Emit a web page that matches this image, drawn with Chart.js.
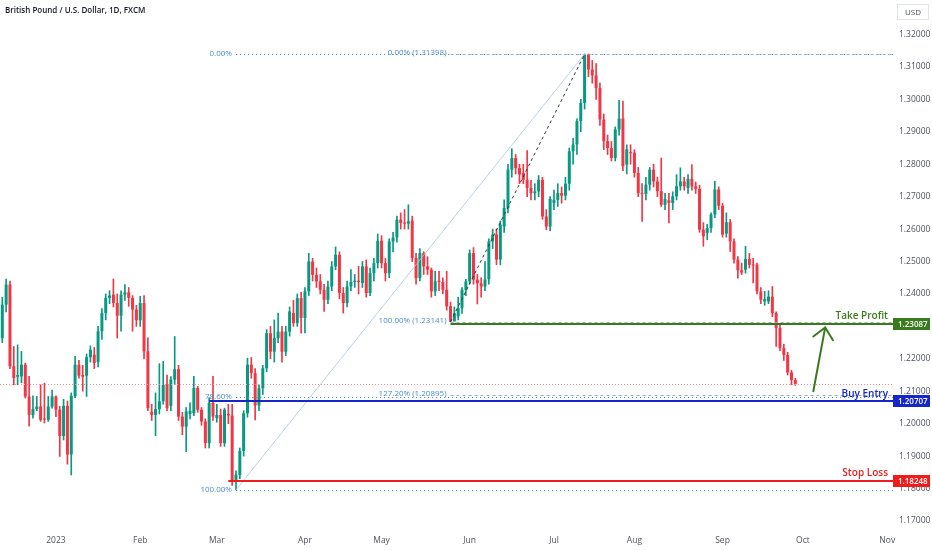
<!DOCTYPE html>
<html>
<head>
<meta charset="utf-8">
<script src="https://cdn.jsdelivr.net/npm/chart.js@4.4.1/dist/chart.umd.min.js"></script>
<style>
  html, body { margin: 0; padding: 0; background: #ffffff; }
  canvas { display: block; }
</style>
</head>
<body>
<canvas id="chart" width="932" height="550"></canvas>
<script>
// daily GBPUSD candles, index 0 = first session of 2023 (Jan 2)
const firstIndex = -14;

const opens = [
  1.2264, 1.2367, 1.2429, 1.2177, 1.2145, 1.2146, 1.2182, 1.2084, 1.2027, 1.2045,
  1.2053, 1.2016, 1.2012, 1.2053, 1.2084, 1.2043, 1.1962, 1.2055, 1.1905, 1.2084,
  1.2182, 1.2150, 1.2148, 1.2205, 1.2213, 1.2190, 1.2285, 1.2341, 1.2388, 1.2398,
  1.2372, 1.2333, 1.2398, 1.2405, 1.2388, 1.2352, 1.2319, 1.2372, 1.2223, 1.2037,
  1.2027, 1.2045, 1.2069, 1.2120, 1.2055, 1.2136, 1.2168, 1.2022, 1.1991, 1.2030,
  1.2033, 1.2110, 1.2043, 1.2007, 1.1940, 1.2064, 1.2017, 1.2027, 1.1940, 1.2030,
  1.2025, 1.1822, 1.1842, 1.1916, 1.2032, 1.2182, 1.2156, 1.2056, 1.2109, 1.2171,
  1.2279, 1.2222, 1.2264, 1.2284, 1.2222, 1.2284, 1.2341, 1.2310, 1.2387, 1.2326,
  1.2408, 1.2500, 1.2459, 1.2439, 1.2413, 1.2382, 1.2423, 1.2485, 1.2521, 1.2403,
  1.2372, 1.2423, 1.2437, 1.2441, 1.2434, 1.2485, 1.2403, 1.2464, 1.2495, 1.2564,
  1.2495, 1.2464, 1.2562, 1.2574, 1.2629, 1.2619, 1.2617, 1.2626, 1.2511, 1.2449,
  1.2526, 1.2485, 1.2475, 1.2408, 1.2441, 1.2437, 1.2413, 1.2362, 1.2315, 1.2331,
  1.2356, 1.2413, 1.2439, 1.2526, 1.2444, 1.2433, 1.2423, 1.2445, 1.2562, 1.2583,
  1.2506, 1.2608, 1.2665, 1.2783, 1.2819, 1.2788, 1.2773, 1.2752, 1.2727, 1.2711,
  1.2716, 1.2752, 1.2639, 1.2608, 1.2680, 1.2690, 1.2711, 1.2703, 1.2740, 1.2840,
  1.2861, 1.2933, 1.2989, 1.3138, 1.3092, 1.3074, 1.3035, 1.2938, 1.2871, 1.2850,
  1.2819, 1.2907, 1.2941, 1.2799, 1.2836, 1.2836, 1.2773, 1.2711, 1.2708, 1.2737,
  1.2783, 1.2747, 1.2717, 1.2675, 1.2689, 1.2681, 1.2701, 1.2732, 1.2747, 1.2727,
  1.2755, 1.2732, 1.2724, 1.2598, 1.2588, 1.2603, 1.2645, 1.2722, 1.2672, 1.2586,
  1.2621, 1.2562, 1.2506, 1.2473, 1.2475, 1.2508, 1.2490, 1.2490, 1.2408, 1.2377,
  1.2377, 1.2392, 1.2341, 1.2295, 1.2233, 1.2212, 1.2158, 1.2135
];

const highs = [
  1.2390, 1.2446, 1.2440, 1.2238, 1.2243, 1.2223, 1.2187, 1.2146, 1.2086, 1.2084,
  1.2120, 1.2125, 1.2084, 1.2104, 1.2086, 1.2053, 1.2075, 1.2070, 1.2095, 1.2208,
  1.2195, 1.2180, 1.2215, 1.2240, 1.2235, 1.2300, 1.2355, 1.2400, 1.2410, 1.2446,
  1.2400, 1.2410, 1.2429, 1.2420, 1.2395, 1.2365, 1.2393, 1.2395, 1.2265, 1.2060,
  1.2095, 1.2185, 1.2192, 1.2150, 1.2145, 1.2269, 1.2180, 1.2035, 1.2050, 1.2064,
  1.2146, 1.2115, 1.2050, 1.2015, 1.2080, 1.2146, 1.2060, 1.2045, 1.2048, 1.2060,
  1.2060, 1.1855, 1.1925, 1.2040, 1.2202, 1.2204, 1.2170, 1.2120, 1.2180, 1.2290,
  1.2300, 1.2320, 1.2341, 1.2300, 1.2300, 1.2360, 1.2380, 1.2400, 1.2405, 1.2420,
  1.2525, 1.2510, 1.2480, 1.2460, 1.2430, 1.2440, 1.2500, 1.2545, 1.2530, 1.2420,
  1.2440, 1.2475, 1.2460, 1.2485, 1.2500, 1.2505, 1.2480, 1.2510, 1.2585, 1.2580,
  1.2510, 1.2570, 1.2590, 1.2640, 1.2650, 1.2660, 1.2675, 1.2640, 1.2525, 1.2540,
  1.2530, 1.2515, 1.2480, 1.2470, 1.2470, 1.2450, 1.2470, 1.2375, 1.2360, 1.2390,
  1.2420, 1.2445, 1.2536, 1.2543, 1.2460, 1.2450, 1.2500, 1.2570, 1.2600, 1.2600,
  1.2625, 1.2690, 1.2800, 1.2848, 1.2830, 1.2800, 1.2800, 1.2842, 1.2750, 1.2740,
  1.2765, 1.2760, 1.2660, 1.2700, 1.2720, 1.2740, 1.2730, 1.2760, 1.2850, 1.2880,
  1.2940, 1.3000, 1.3140, 1.3140, 1.3120, 1.3110, 1.3050, 1.2955, 1.2890, 1.2870,
  1.2915, 1.2997, 1.2995, 1.2860, 1.2860, 1.2845, 1.2790, 1.2740, 1.2760, 1.2790,
  1.2800, 1.2760, 1.2819, 1.2710, 1.2710, 1.2715, 1.2768, 1.2789, 1.2760, 1.2768,
  1.2799, 1.2745, 1.2735, 1.2620, 1.2615, 1.2650, 1.2747, 1.2730, 1.2680, 1.2650,
  1.2630, 1.2570, 1.2515, 1.2495, 1.2547, 1.2525, 1.2510, 1.2495, 1.2420, 1.2408,
  1.2410, 1.2423, 1.2345, 1.2305, 1.2245, 1.2220, 1.2165, 1.2140
];

const lows = [
  1.2250, 1.2345, 1.2170, 1.2120, 1.2120, 1.2126, 1.2079, 1.1992, 1.2017, 1.2040,
  1.2007, 1.2002, 1.2007, 1.2048, 1.2022, 1.1899, 1.1950, 1.1875, 1.1842, 1.2080,
  1.2140, 1.2100, 1.2084, 1.2190, 1.2170, 1.2175, 1.2260, 1.2320, 1.2370, 1.2360,
  1.2264, 1.2285, 1.2380, 1.2362, 1.2285, 1.2300, 1.2300, 1.2200, 1.2040, 1.2010,
  1.1963, 1.2030, 1.2060, 1.2040, 1.2040, 1.2120, 1.2010, 1.1966, 1.1914, 1.2015,
  1.2025, 1.2035, 1.1995, 1.1925, 1.1925, 1.2010, 1.2005, 1.1930, 1.1930, 1.2000,
  1.1810, 1.1796, 1.1830, 1.1900, 1.2020, 1.2140, 1.2012, 1.2040, 1.2090, 1.2160,
  1.2200, 1.2190, 1.2250, 1.2190, 1.2210, 1.2270, 1.2300, 1.2300, 1.2279, 1.2280,
  1.2395, 1.2440, 1.2420, 1.2400, 1.2346, 1.2370, 1.2410, 1.2475, 1.2385, 1.2341,
  1.2360, 1.2410, 1.2420, 1.2400, 1.2420, 1.2390, 1.2395, 1.2440, 1.2480, 1.2480,
  1.2440, 1.2450, 1.2530, 1.2560, 1.2600, 1.2600, 1.2600, 1.2500, 1.2430, 1.2440,
  1.2460, 1.2460, 1.2390, 1.2395, 1.2410, 1.2400, 1.2350, 1.2314, 1.2318, 1.2320,
  1.2340, 1.2395, 1.2430, 1.2430, 1.2369, 1.2390, 1.2410, 1.2430, 1.2540, 1.2490,
  1.2490, 1.2590, 1.2650, 1.2760, 1.2770, 1.2740, 1.2740, 1.2700, 1.2690, 1.2690,
  1.2700, 1.2630, 1.2598, 1.2595, 1.2660, 1.2670, 1.2680, 1.2690, 1.2720, 1.2800,
  1.2830, 1.2900, 1.2970, 1.3070, 1.3050, 1.3000, 1.2920, 1.2845, 1.2830, 1.2810,
  1.2810, 1.2890, 1.2780, 1.2770, 1.2800, 1.2760, 1.2700, 1.2624, 1.2690, 1.2720,
  1.2730, 1.2700, 1.2670, 1.2660, 1.2619, 1.2660, 1.2690, 1.2720, 1.2720, 1.2710,
  1.2720, 1.2710, 1.2590, 1.2547, 1.2567, 1.2590, 1.2635, 1.2660, 1.2575, 1.2575,
  1.2531, 1.2495, 1.2449, 1.2460, 1.2464, 1.2480, 1.2434, 1.2400, 1.2370, 1.2365,
  1.2370, 1.2330, 1.2238, 1.2225, 1.2195, 1.2150, 1.2120, 1.2118
];

const closes = [
  1.2367, 1.2429, 1.2177, 1.2141, 1.2150, 1.2182, 1.2084, 1.2027, 1.2045, 1.2053,
  1.2012, 1.2013, 1.2053, 1.2084, 1.2043, 1.1962, 1.2055, 1.1905, 1.2086, 1.2182,
  1.2148, 1.2145, 1.2205, 1.2228, 1.2187, 1.2285, 1.2341, 1.2388, 1.2395, 1.2372,
  1.2333, 1.2398, 1.2405, 1.2388, 1.2352, 1.2319, 1.2372, 1.2223, 1.2048, 1.2027,
  1.2045, 1.2069, 1.2120, 1.2048, 1.2136, 1.2168, 1.2022, 1.1991, 1.2038, 1.2040,
  1.2110, 1.2043, 1.2007, 1.1940, 1.2064, 1.2022, 1.2027, 1.1940, 1.2043, 1.2025,
  1.1822, 1.1843, 1.1916, 1.2032, 1.2182, 1.2156, 1.2056, 1.2109, 1.2171, 1.2279,
  1.2222, 1.2264, 1.2284, 1.2222, 1.2284, 1.2346, 1.2310, 1.2387, 1.2326, 1.2408,
  1.2500, 1.2459, 1.2439, 1.2413, 1.2382, 1.2423, 1.2485, 1.2521, 1.2403, 1.2372,
  1.2423, 1.2437, 1.2441, 1.2437, 1.2485, 1.2403, 1.2464, 1.2495, 1.2564, 1.2495,
  1.2464, 1.2562, 1.2574, 1.2629, 1.2619, 1.2617, 1.2624, 1.2511, 1.2449, 1.2526,
  1.2485, 1.2475, 1.2408, 1.2439, 1.2437, 1.2413, 1.2362, 1.2315, 1.2341, 1.2356,
  1.2413, 1.2439, 1.2526, 1.2444, 1.2433, 1.2423, 1.2445, 1.2562, 1.2583, 1.2506,
  1.2614, 1.2665, 1.2783, 1.2819, 1.2788, 1.2768, 1.2752, 1.2727, 1.2711, 1.2716,
  1.2752, 1.2639, 1.2608, 1.2693, 1.2690, 1.2711, 1.2703, 1.2740, 1.2840, 1.2861,
  1.2933, 1.2989, 1.3138, 1.3092, 1.3074, 1.3035, 1.2938, 1.2871, 1.2850, 1.2819,
  1.2907, 1.2941, 1.2794, 1.2846, 1.2834, 1.2773, 1.2711, 1.2708, 1.2737, 1.2783,
  1.2747, 1.2717, 1.2675, 1.2693, 1.2681, 1.2701, 1.2732, 1.2747, 1.2732, 1.2755,
  1.2732, 1.2724, 1.2598, 1.2578, 1.2603, 1.2645, 1.2722, 1.2672, 1.2583, 1.2621,
  1.2562, 1.2506, 1.2473, 1.2466, 1.2508, 1.2490, 1.2488, 1.2408, 1.2382, 1.2384,
  1.2392, 1.2341, 1.2295, 1.2233, 1.2212, 1.2158, 1.2135, 1.2123
];

// time axis: session index of each month start
const monthTicks = [0, 22, 42, 65, 85, 108, 130, 151, 174, 195, 217];
const monthLabels = ['2023', 'Feb', 'Mar', 'Apr', 'May', 'Jun', 'Jul', 'Aug', 'Sep', 'Oct', 'Nov'];
const priceTicks = [1.17, 1.18, 1.19, 1.20, 1.21, 1.22, 1.23, 1.24, 1.25, 1.26, 1.27, 1.28, 1.29, 1.30, 1.31, 1.32];

const lastPrice = 1.2123;

// fib retracement Mar low -> Jul high
const fibStartA = 47;
const fibLevelsA = [1.31398, 1.20836, 1.1796];
const fibLabelsA = ['0.00%', '78.60%', '100.00%'];
// fib extension May low -> Jul high
const fibStartB = 103;
const fibLevelsB = [1.31398, 1.23141, 1.20895];
const fibLabelsB = ['0.00% (1.31398)', '100.00% (1.23141)', '127.20% (1.20895)'];

// trade plan levels
const tradeNames = ['Take Profit', 'Buy Entry', 'Stop Loss'];
const tradePrices = [1.23087, 1.20707, 1.18248];
const tradeStarts = [103, 40, 45];
const tradeColors = ['#3a7a1e', '#1626c8', '#f01b1b'];

const upColor = '#089981';
const downColor = '#f23645';
const axisFont = { family: 'Open Sans', size: 8.5 };
const axisColor = '#50535e';

const candleIdx = closes.map((_, k) => firstIndex + k);
const candleColors = closes.map((c, k) => (c >= opens[k] ? upColor : downColor));

const drawings = {
  id: 'drawings',
  afterDatasetsDraw(chart) {
    const { ctx, chartArea: a, scales: { x, y } } = chart;
    const crisp = v => Math.round(v) + 0.5;

    const hLine = (x0, price, color, width, dash) => {
      const yy = width % 2 ? crisp(y.getPixelForValue(price)) : Math.round(y.getPixelForValue(price));
      ctx.strokeStyle = color;
      ctx.lineWidth = width;
      ctx.setLineDash(dash);
      ctx.beginPath();
      ctx.moveTo(x0, yy);
      ctx.lineTo(a.right, yy);
      ctx.stroke();
    };

    ctx.save();
    ctx.beginPath();
    ctx.rect(a.left, a.top, a.right - a.left, a.bottom - a.top);
    ctx.clip();

    // last price line
    hLine(a.left, lastPrice, '#f28c96', 1, [1, 2]);

    // fib lines
    fibLevelsA.forEach(p => hLine(x.getPixelForValue(fibStartA), p, '#4d8fd6', 1, [1.2, 2.8]));
    fibLevelsB.forEach(p => hLine(x.getPixelForValue(fibStartB), p, '#a3adbb', 1, [3, 3]));

    // trend lines of both fib tools
    ctx.setLineDash([]);
    ctx.strokeStyle = '#a9c6de';
    ctx.lineWidth = 0.8;
    ctx.beginPath();
    ctx.moveTo(x.getPixelForValue(fibStartA), y.getPixelForValue(fibLevelsA[2]));
    ctx.lineTo(x.getPixelForValue(138), y.getPixelForValue(fibLevelsA[0]));
    ctx.stroke();

    ctx.setLineDash([3, 3]);
    ctx.strokeStyle = '#30343f';
    ctx.lineWidth = 1;
    ctx.beginPath();
    ctx.moveTo(x.getPixelForValue(fibStartB), y.getPixelForValue(fibLevelsB[1]));
    ctx.lineTo(x.getPixelForValue(138), y.getPixelForValue(fibLevelsB[0]));
    ctx.stroke();

    // trade lines
    tradePrices.forEach((p, k) => hLine(x.getPixelForValue(tradeStarts[k]), p, tradeColors[k], 2, []));
    ctx.setLineDash([]);

    // fib labels
    ctx.font = '8px "Open Sans"';
    ctx.fillStyle = '#4a8cd2';
    ctx.textAlign = 'right';
    ctx.textBaseline = 'middle';
    fibLevelsA.forEach((p, k) => {
      ctx.fillText(fibLabelsA[k], x.getPixelForValue(fibStartA) - 4, y.getPixelForValue(p));
    });
    fibLevelsB.forEach((p, k) => {
      ctx.fillText(fibLabelsB[k], x.getPixelForValue(fibStartB) - 4, y.getPixelForValue(p) - 1);
    });

    // trade labels
    ctx.font = '600 10px "Open Sans"';
    ctx.textBaseline = 'bottom';
    tradePrices.forEach((p, k) => {
      ctx.fillStyle = tradeColors[k];
      ctx.fillText(tradeNames[k], a.right - 5, y.getPixelForValue(p) - 2);
    });

    // arrow towards the target
    const tx = x.getPixelForValue(200.8), ty = y.getPixelForValue(1.2297);
    const fx = x.getPixelForValue(197.7), fy = y.getPixelForValue(1.2100);
    const ang = Math.atan2(fy - ty, fx - tx);
    ctx.strokeStyle = tradeColors[0];
    ctx.lineWidth = 2;
    ctx.lineCap = 'round';
    ctx.beginPath();
    ctx.moveTo(fx, fy);
    ctx.lineTo(tx, ty);
    ctx.moveTo(tx + 15 * Math.cos(ang - 0.73), ty + 15 * Math.sin(ang - 0.73));
    ctx.lineTo(tx, ty);
    ctx.lineTo(tx + 15 * Math.cos(ang + 0.73), ty + 15 * Math.sin(ang + 0.73));
    ctx.stroke();

    ctx.restore();
  },
  afterDraw(chart) {
    const { ctx, chartArea: a, scales: { y } } = chart;
    ctx.save();

    // price tags on the axis
    ctx.font = '600 8px "Open Sans"';
    ctx.textAlign = 'left';
    ctx.textBaseline = 'middle';
    tradePrices.forEach((p, k) => {
      const yy = Math.round(y.getPixelForValue(p));
      ctx.fillStyle = tradeColors[k];
      ctx.fillRect(a.right, yy - 6, chart.width - a.right - 2, 12);
      ctx.fillStyle = '#ffffff';
      ctx.fillText(p.toFixed(5), a.right + 5, yy + 0.5);
    });

    // currency box
    ctx.strokeStyle = '#e0e3eb';
    ctx.lineWidth = 1;
    ctx.strokeRect(897.5, 4.5, 31, 15);
    ctx.fillStyle = '#50535e';
    ctx.font = '8px "Open Sans"';
    ctx.textAlign = 'center';
    ctx.fillText('USD', 913, 12.5);

    // symbol title
    ctx.fillStyle = '#131722';
    ctx.font = '600 8px "Open Sans"';
    ctx.textAlign = 'left';
    ctx.fillText('British Pound / U.S. Dollar, 1D, FXCM', 5, 11);

    ctx.restore();
  }
};

const noEdgePadding = s => {
  s.paddingTop = 0;
  s.paddingBottom = 0;
  s.paddingLeft = 0;
  s.paddingRight = 0;
};

new Chart(document.getElementById('chart'), {
  type: 'bar',
  data: {
    datasets: [
      {
        data: candleIdx.map((i, k) => ({ x: i, y: [opens[k], closes[k]] })),
        backgroundColor: candleColors,
        grouped: false,
        categoryPercentage: 1,
        barPercentage: 0.78,
        minBarLength: 1
      },
      {
        data: candleIdx.map((i, k) => ({ x: i, y: [lows[k], highs[k]] })),
        backgroundColor: candleColors,
        grouped: false,
        categoryPercentage: 1,
        barPercentage: 1,
        maxBarThickness: 1
      }
    ]
  },
  options: {
    responsive: false,
    animation: false,
    layout: { padding: 0 },
    plugins: { legend: { display: false }, tooltip: { enabled: false } },
    scales: {
      x: {
        type: 'linear',
        min: -14.6,
        max: 218.5,
        offset: false,
        grid: { display: false, drawTicks: false },
        border: { display: false },
        afterBuildTicks: s => { s.ticks = monthTicks.map(v => ({ value: v })); },
        afterFit: s => { s.height = 20; noEdgePadding(s); },
        ticks: {
          autoSkip: false,
          maxRotation: 0,
          padding: 5,
          color: axisColor,
          font: axisFont,
          callback: v => monthLabels[monthTicks.indexOf(v)]
        }
      },
      y: {
        position: 'right',
        min: 1.16722,
        max: 1.33064,
        grid: { display: false, drawTicks: false },
        border: { display: false },
        afterBuildTicks: s => { s.ticks = priceTicks.map(v => ({ value: v })); },
        afterFit: s => { s.width = 39; noEdgePadding(s); },
        ticks: {
          padding: 6,
          color: axisColor,
          font: axisFont,
          callback: v => v.toFixed(5)
        }
      }
    }
  },
  plugins: [drawings]
});
</script>
</body>
</html>
